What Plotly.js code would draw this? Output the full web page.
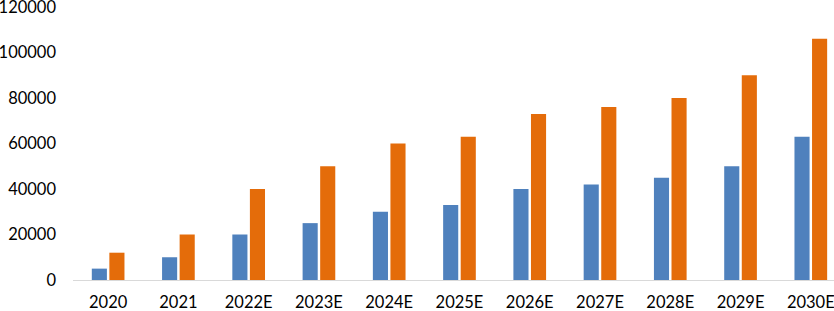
<!DOCTYPE html>
<html>
<head>
<meta charset="utf-8">
<script src="https://cdn.plot.ly/plotly-3.0.1.min.js"></script>
<style>html,body{margin:0;padding:0;overflow:hidden;background:#fff}</style>
</head>
<body>
<div id="chart" style="width:834px;height:311px"></div>
<script>
const categories = ["2020","2021","2022E","2023E","2024E","2025E","2026E","2027E","2028E","2029E","2030E"];
const seriesBlue = [5000,10000,20000,25000,30000,33000,40000,42000,45000,50000,63000];
const seriesOrange = [12000,20000,40000,50000,60000,63000,73000,76000,80000,90000,106000];
const yTicks = [0,20000,40000,60000,80000,100000,120000];

const font = {family:"Lato, 'Open Sans', sans-serif", size:16.5, color:"#000"};
const data = [
  {type:"bar", x:categories, y:seriesBlue, marker:{color:"#4F81BD"}, name:"A"},
  {type:"bar", x:categories, y:seriesOrange, marker:{color:"#E46C0A"}, name:"B"}
];
const layout = {
  width:834, height:311,
  margin:{l:73, r:0, t:7, b:31, pad:0},
  paper_bgcolor:"#fff", plot_bgcolor:"#fff",
  barmode:"group", bargap:0.5, bargroupgap:0.14,
  showlegend:false,
  font:font,
  xaxis:{type:"category", range:[-0.5,10.33], showline:true, linecolor:"#D9D9D9", linewidth:1,
         showgrid:false, zeroline:false, ticks:"", tickfont:font, ticklabelstandoff:7,
         ticklabeloverflow:"allow", fixedrange:true},
  yaxis:{range:[0,120000], tickvals:yTicks, ticktext:yTicks.map(String), showline:false, showgrid:false,
         zeroline:false, ticks:"", tickfont:font, ticklabelstandoff:16,
         ticklabeloverflow:"allow", fixedrange:true}
};
Plotly.newPlot("chart", data, layout, {displayModeBar:false, staticPlot:true});
</script>
</body>
</html>
